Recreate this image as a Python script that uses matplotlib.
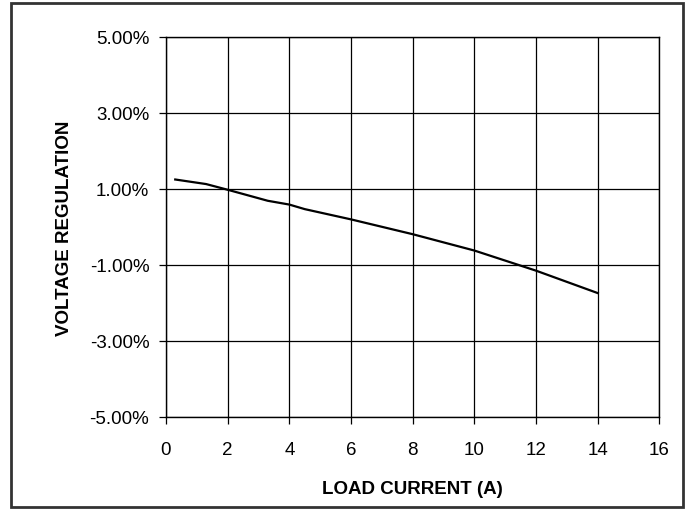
#!/usr/bin/env python3
# Voltage regulation vs load current

import matplotlib
matplotlib.use("Agg")
import matplotlib.pyplot as plt
import matplotlib.patches as patches
import matplotlib.ticker as ticker

load_current = [0.3, 1.3, 2.0, 3.3, 4.0, 4.5, 6.0, 8.0, 10.0, 12.0, 14.0]
regulation = [1.25, 1.13, 0.98, 0.69, 0.59, 0.47, 0.20, -0.19, -0.62, -1.15, -1.74]

x_ticks = [0, 2, 4, 6, 8, 10, 12, 14, 16]
y_ticks = [-5, -3, -1, 1, 3, 5]

plt.rcParams['font.family'] = ['Liberation Sans', 'DejaVu Sans']

fig = plt.figure(figsize=(6.91, 5.10), dpi=100)
ax = fig.add_axes([0.2402, 0.1804, 0.7142, 0.7451])

ax.plot(load_current, regulation, color='black', linewidth=1.6, zorder=3)

ax.set_xlim(0, 16)
ax.set_ylim(-5, 5)
ax.set_xticks(x_ticks)
ax.set_yticks(y_ticks)
ax.yaxis.set_major_formatter(ticker.FuncFormatter(lambda v, p: '%.2f%%' % v))
ax.grid(True, color='black', linewidth=0.9, zorder=1)
ax.tick_params(direction='out', length=5, width=0.9, labelsize=13.5, color='black')
ax.tick_params(axis='y', pad=7)
ax.tick_params(axis='x', pad=12)
for s in ax.spines.values():
    s.set_linewidth(1.0)

ax.set_xlabel('LOAD CURRENT (A)', fontsize=13.5, fontweight='bold', labelpad=16)
ax.set_ylabel('VOLTAGE REGULATION', fontsize=13.5, fontweight='bold', labelpad=12)

# outer frame round the whole figure
frame = patches.Rectangle((11 / 691, 2 / 510), 672 / 691, 504 / 510,
                          transform=fig.transFigure, fill=False,
                          edgecolor='#333333', linewidth=2.0)
fig.patches.append(frame)

fig.savefig('out.png', dpi=100)
